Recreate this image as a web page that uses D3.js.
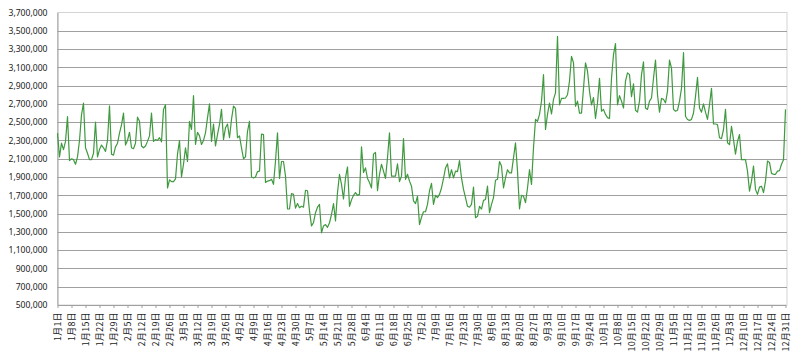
<!DOCTYPE html>
<html>
<head>
<meta charset="utf-8">
<script src="https://cdn.jsdelivr.net/npm/d3@7"></script>
<style>
  html, body { margin: 0; padding: 0; background: #fff; }
  svg { display: block; }
  .lbl { font-family: "Noto Sans CJK JP", "Noto Sans", sans-serif; fill: #222; }
</style>
</head>
<body>
<svg id="chart" width="800" height="359"></svg>
<script>
// Daily values, 1月1日 .. 12月31日 (365 days)
const dailyValues = [
2380000,2120000,2270000,2200000,2290000,2560000,2080000,2100000,2090000,2040000,
2120000,2300000,2580000,2710000,2220000,2160000,2090000,2090000,2160000,2500000,
2120000,2200000,2250000,2220000,2180000,2300000,2680000,2150000,2140000,2230000,
2270000,2380000,2470000,2600000,2250000,2300000,2390000,2220000,2210000,2270000,
2555000,2510000,2240000,2220000,2240000,2290000,2350000,2600000,2290000,2310000,
2300000,2330000,2285000,2640000,2690000,1780000,1870000,1850000,1850000,1880000,
2150000,2300000,1900000,2040000,2220000,2070000,2510000,2420000,2790000,2256000,
2390000,2350000,2256000,2300000,2384000,2547000,2700000,2290000,2480000,2240000,
2365000,2475000,2640000,2310000,2440000,2480000,2330000,2530000,2675000,2650000,
2330000,2350000,2220000,2100000,2120000,2400000,2510000,1900000,1890000,1900000,
1960000,1965000,2370000,2365000,1840000,1856000,1860000,1875000,1820000,2075000,
2384000,1885000,2070000,2070000,1910000,1550000,1550000,1720000,1710000,1560000,
1610000,1565000,1580000,1570000,1755000,1750000,1530000,1365000,1400000,1510000,
1570000,1600000,1290000,1365000,1380000,1350000,1400000,1490000,1610000,1420000,
1730000,1930000,1820000,1660000,1890000,2010000,1580000,1650000,1700000,1730000,
1700000,1710000,2230000,1950000,2000000,1885000,1840000,1780000,2150000,2170000,
1750000,1930000,2040000,1965000,1885000,2110000,2384000,1910000,1910000,1910000,
2045000,1850000,1910000,2320000,1875000,1930000,1855000,1800000,1640000,1610000,
1690000,1380000,1460000,1520000,1520000,1600000,1750000,1830000,1600000,1700000,
1675000,1710000,1780000,1885000,2000000,2045000,1890000,1980000,1890000,1965000,
1960000,2080000,1890000,1765000,1675000,1580000,1570000,1600000,1790000,1455000,
1470000,1580000,1550000,1645000,1655000,1800000,1510000,1600000,1675000,1865000,
1875000,2070000,2020000,1780000,1890000,1980000,1945000,1945000,2110000,2275000,
1965000,1550000,1700000,1690000,1620000,1780000,1980000,1820000,2220000,2530000,
2510000,2585000,2730000,3020000,2420000,2585000,2710000,2590000,2750000,2820000,
3440000,2690000,2760000,2760000,2765000,2800000,2950000,3220000,3150000,2675000,
2730000,2600000,2600000,2870000,3150000,3060000,2840000,2690000,2770000,2540000,
2710000,2980000,2620000,2640000,2585000,2550000,2540000,2980000,3240000,3360000,
2690000,2790000,2730000,2655000,2950000,3040000,3020000,2780000,2920000,2630000,
2610000,2730000,3020000,3160000,2655000,2640000,2730000,2765000,2980000,3180000,
2800000,2610000,2760000,2750000,2710000,2840000,3180000,3090000,2640000,2620000,
2630000,2730000,2870000,3260000,2565000,2530000,2520000,2530000,2600000,2780000,
2990000,2655000,2610000,2700000,2610000,2530000,2690000,2870000,2480000,2480000,
2475000,2330000,2320000,2420000,2640000,2275000,2255000,2455000,2310000,2150000,
2290000,2365000,2090000,2090000,2090000,1965000,1745000,1855000,2020000,1765000,
1710000,1790000,1800000,1730000,1855000,2075000,2060000,1940000,1930000,1930000,
1965000,1970000,2040000,2090000,2640000
];

// Category tick labels (every 7th day, starting 1月1日)
const tickDayIndex = [0,7,14,21,28,35,42,49,56,63,70,77,84,91,98,105,112,119,126,133,140,147,154,161,168,175,182,189,196,203,210,217,224,231,238,245,252,259,266,273,280,287,294,301,308,315,322,329,336,343,350,357,364];
const tickLabels = [
"1月1日","1月8日","1月15日","1月22日","1月29日",
"2月5日","2月12日","2月19日","2月26日",
"3月5日","3月12日","3月19日","3月26日",
"4月2日","4月9日","4月16日","4月23日","4月30日",
"5月7日","5月14日","5月21日","5月28日",
"6月4日","6月11日","6月18日","6月25日",
"7月2日","7月9日","7月16日","7月23日","7月30日",
"8月6日","8月13日","8月20日","8月27日",
"9月3日","9月10日","9月17日","9月24日",
"10月1日","10月8日","10月15日","10月22日","10月29日",
"11月5日","11月12日","11月19日","11月26日",
"12月3日","12月10日","12月17日","12月24日","12月31日"
];
const yTicks = [500000,700000,900000,1100000,1300000,1500000,1700000,1900000,2100000,2300000,2500000,2700000,2900000,3100000,3300000,3500000,3700000];

(function () {
const svg = d3.select("#chart");
const plotLeft = 57.5, plotRight = 785.5, plotTop = 12.5, plotBottom = 305, frameRight = 787;

const x = d3.scaleLinear().domain([0, dailyValues.length - 1]).range([plotLeft, plotRight]);
const y = d3.scaleLinear().domain([500000, 3700000]).range([plotBottom, plotTop]);

// plot frame (light)
svg.append("rect")
  .attr("x", plotLeft).attr("y", plotTop)
  .attr("width", frameRight - plotLeft).attr("height", plotBottom - plotTop)
  .attr("fill", "#fff").attr("stroke", "#d4d4d4").attr("stroke-width", 1);

// gridlines
svg.append("g").selectAll("line")
  .data(yTicks.slice(1, -1))
  .join("line")
  .attr("x1", plotLeft).attr("x2", frameRight)
  .attr("y1", d => Math.round(y(d)) + 0.5).attr("y2", d => Math.round(y(d)) + 0.5)
  .attr("stroke", "#a0a0a0").attr("stroke-width", 1);

// y axis
const yAxis = svg.append("g")
  .attr("transform", `translate(${plotLeft},0)`)
  .call(d3.axisLeft(y).tickValues(yTicks).tickFormat(d3.format(",")).tickSize(0).tickPadding(10));
yAxis.select(".domain").attr("stroke", "#a0a0a0");
yAxis.selectAll("text").attr("class", "lbl").style("font-size", "8.6px")
  .style("font-family", "'Noto Sans', sans-serif").attr("fill", "#222");

// x axis
const xAxis = svg.append("g")
  .attr("transform", `translate(0,${plotBottom})`)
  .call(d3.axisBottom(x).tickValues(tickDayIndex)
    .tickFormat((d, i) => tickLabels[i]).tickSize(3).tickSizeOuter(0));
xAxis.select(".domain").attr("stroke", "#a0a0a0");
xAxis.selectAll(".tick line").attr("stroke", "#a0a0a0");
xAxis.selectAll("text")
  .attr("class", "lbl")
  .style("font-size", "8.8px")
  .style("letter-spacing", "0.4px")
  .attr("fill", "#333")
  .attr("text-anchor", "end")
  .attr("transform", "rotate(-90)")
  .attr("x", -7)
  .attr("y", 0)
  .attr("dy", "0.35em");

// line
const line = d3.line()
  .x((d, i) => x(i))
  .y(d => y(d));

svg.append("path")
  .datum(dailyValues)
  .attr("fill", "none")
  .attr("stroke", "#3f993f")
  .attr("stroke-width", 1.2)
  .attr("stroke-linejoin", "round")
  .attr("d", line);
})();
</script>
</body>
</html>
